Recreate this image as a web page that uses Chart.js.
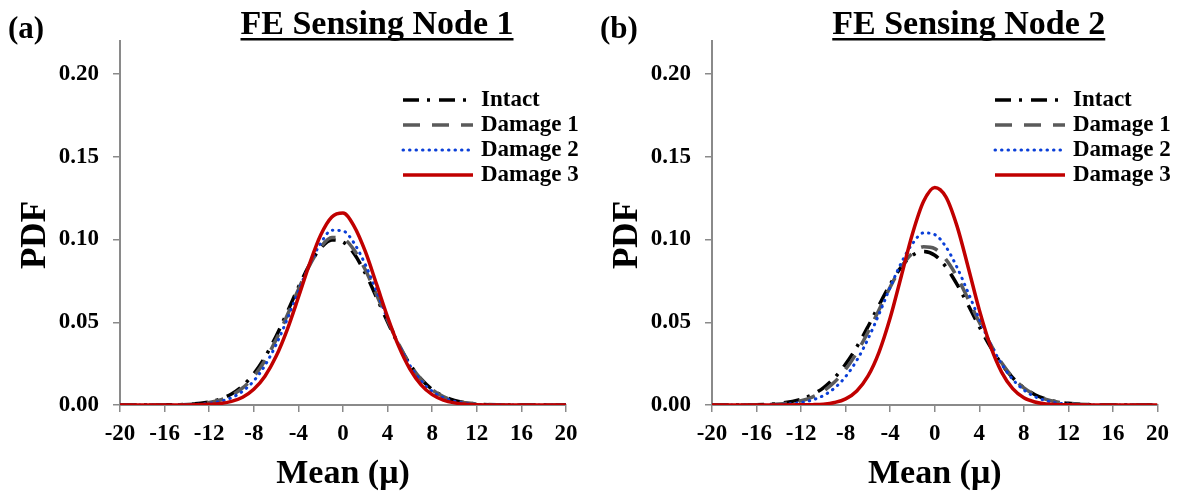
<!DOCTYPE html>
<html>
<head>
<meta charset="utf-8">
<script src="https://cdn.jsdelivr.net/npm/chart.js@4.4.1/dist/chart.umd.min.js"></script>
<style>
  html, body { margin: 0; padding: 0; background: #fff; overflow: hidden; width: 1177px; height: 495px; }
  .panel { position: absolute; top: 0; height: 495px; }
  #p1 { left: 0; width: 592px; }
  #p2 { left: 592px; width: 585px; }
  canvas { display: block; }
</style>
</head>
<body>
<div class="panel" id="p1"><canvas id="c1" width="592" height="495"></canvas></div>
<div class="panel" id="p2"><canvas id="c2" width="585" height="495"></canvas></div>
<script>
// Mean values at which the probability densities are sampled
const meanGrid = [-20, -16, -14, -12, -11, -10, -9, -8, -7, -6, -5, -4, -3, -2, -1, 0,
                  1, 2, 3, 4, 5, 6, 7, 8, 9, 10, 11, 12, 14, 16, 20];

// FE sensing node 1
const node1Intact  = [0, 0.0001, 0.0004, 0.0018, 0.0036, 0.0067, 0.0116, 0.0189, 0.0289, 0.0416, 0.0561, 0.0712, 0.0848, 0.0948, 0.0997, 0.0985,
                      0.0914, 0.0796, 0.0652, 0.0501, 0.0362, 0.0246, 0.0157, 0.0094, 0.0053, 0.0028, 0.0014, 0.0006, 0.0001, 0, 0];
const node1Damage1 = [0, 0.0001, 0.0003, 0.0015, 0.0030, 0.0058, 0.0103, 0.0172, 0.0269, 0.0395, 0.0542, 0.0699, 0.0843, 0.0954, 0.1012, 0.1005,
                      0.0936, 0.0817, 0.0668, 0.0512, 0.0368, 0.0247, 0.0156, 0.0092, 0.0051, 0.0026, 0.0013, 0.0006, 0.0001, 0, 0];
const node1Damage2 = [0, 0, 0.0002, 0.0010, 0.0022, 0.0044, 0.0083, 0.0146, 0.0239, 0.0365, 0.0519, 0.0688, 0.0849, 0.0978, 0.1056, 0.1052,
                      0.0978, 0.0849, 0.0688, 0.0519, 0.0365, 0.0239, 0.0146, 0.0083, 0.0044, 0.0022, 0.0010, 0.0004, 0.0001, 0, 0];
const node1Damage3 = [0, 0, 0, 0.0004, 0.0009, 0.0022, 0.0047, 0.0095, 0.0174, 0.0294, 0.0456, 0.0651, 0.0853, 0.1027, 0.1136, 0.1160,
                      0.1080, 0.0928, 0.0732, 0.0531, 0.0354, 0.0217, 0.0122, 0.0063, 0.0030, 0.0013, 0.0005, 0.0002, 0, 0, 0];

// FE sensing node 2
const node2Intact  = [0, 0.0002, 0.0010, 0.0035, 0.0062, 0.0104, 0.0165, 0.0248, 0.0351, 0.0473, 0.0604, 0.0729, 0.0835, 0.0905, 0.0928, 0.0905,
                      0.0835, 0.0729, 0.0604, 0.0473, 0.0351, 0.0248, 0.0165, 0.0104, 0.0062, 0.0035, 0.0019, 0.0010, 0.0002, 0, 0];
const node2Damage1 = [0, 0.0001, 0.0006, 0.0026, 0.0048, 0.0084, 0.0139, 0.0216, 0.0317, 0.0440, 0.0576, 0.0713, 0.0833, 0.0918, 0.0956, 0.0945,
                      0.0880, 0.0775, 0.0640, 0.0500, 0.0368, 0.0255, 0.0167, 0.0103, 0.0061, 0.0034, 0.0018, 0.0009, 0.0002, 0, 0];
const node2Damage2 = [0, 0, 0.0003, 0.0015, 0.0030, 0.0057, 0.0102, 0.0172, 0.0270, 0.0398, 0.0550, 0.0711, 0.0860, 0.0975, 0.1040, 0.1030,
                      0.0956, 0.0832, 0.0679, 0.0519, 0.0371, 0.0248, 0.0155, 0.0091, 0.0050, 0.0026, 0.0012, 0.0006, 0.0001, 0, 0];
const node2Damage3 = [0, 0, 0, 0.0001, 0.0002, 0.0005, 0.0015, 0.0037, 0.0085, 0.0174, 0.0320, 0.0527, 0.0780, 0.1035, 0.1231, 0.1315,
                      0.1258, 0.1081, 0.0833, 0.0575, 0.0357, 0.0199, 0.0099, 0.0044, 0.0018, 0.0006, 0.0002, 0.0001, 0, 0, 0];

const seriesLabels = ['Intact', 'Damage 1', 'Damage 2', 'Damage 3'];
const panelLetters = ['(a)', '(b)'];
const panelTitles = ['FE Sensing Node 1', 'FE Sensing Node 2'];
const xAxisTitle = 'Mean (\u03bc)';
const yAxisTitle = 'PDF';

const SERIF = '"Liberation Serif", "Times New Roman", serif';
const AXIS_GREY = '#8a8a8a';

// Line appearance for each condition
const lineStyles = [
  { color: '#000000', width: 3.5, dash: [16, 8, 3, 9], cap: 'butt' },
  { color: '#5a5a5a', width: 3.5, dash: [17, 12], cap: 'butt' },
  { color: '#0a3fd8', width: 3, dash: [0.5, 6], cap: 'round' },
  { color: '#c00000', width: 3.5, dash: [], cap: 'butt' }
];

function toPoints(values) {
  return meanGrid.map((m, i) => ({ x: m, y: values[i] }));
}

// Extra drawing: panel letter, underlined title, rotated y-axis title and the in-plot legend
const panelDecor = {
  id: 'panelDecor',
  afterDraw(chart, args, opts) {
    const { ctx, chartArea: a } = chart;
    ctx.save();
    ctx.fillStyle = '#000';

    ctx.font = 'bold 31px ' + SERIF;
    ctx.textAlign = 'left';
    ctx.textBaseline = 'alphabetic';
    ctx.fillText(opts.letter, a.left - 112, 38);

    ctx.font = 'bold 34px ' + SERIF;
    ctx.textAlign = 'center';
    const cx = (a.left + a.right) / 2 + 34;
    ctx.fillText(opts.title, cx, 34);
    const tw = ctx.measureText(opts.title).width;
    ctx.fillRect(cx - tw / 2, 38, tw, 2.5);

    ctx.save();
    ctx.translate(a.left - 84, 235);
    ctx.rotate(-Math.PI / 2);
    ctx.textBaseline = 'middle';
    ctx.font = 'bold 35px ' + SERIF;
    ctx.fillText(opts.yTitle, 0, 0);
    ctx.restore();

    ctx.font = 'bold 23px ' + SERIF;
    ctx.textAlign = 'left';
    ctx.textBaseline = 'middle';
    chart.data.datasets.forEach((ds, i) => {
      const y = a.top + 59 + i * 25;
      ctx.save();
      ctx.strokeStyle = ds.borderColor;
      ctx.lineWidth = ds.borderWidth;
      ctx.lineCap = ds.borderCapStyle;
      ctx.setLineDash(ds.borderDash);
      ctx.beginPath();
      ctx.moveTo(a.left + 283, y);
      ctx.lineTo(a.left + 353, y);
      ctx.stroke();
      ctx.restore();
      ctx.fillText(ds.label, a.left + 361, y);
    });
    ctx.restore();
  }
};

function makePanel(canvasId, seriesList, letter, title, rightPad) {
  const datasets = seriesList.map((vals, i) => ({
    label: seriesLabels[i],
    data: toPoints(vals),
    borderColor: lineStyles[i].color,
    borderWidth: lineStyles[i].width,
    borderDash: lineStyles[i].dash,
    borderCapStyle: lineStyles[i].cap,
    fill: false,
    pointRadius: 0,
    cubicInterpolationMode: 'monotone',
    order: seriesList.length - 1 - i
  }));

  return new Chart(document.getElementById(canvasId), {
    type: 'line',
    data: { datasets },
    plugins: [panelDecor],
    options: {
      responsive: false,
      animation: false,
      devicePixelRatio: 1,
      layout: { padding: { left: 0, top: 41, right: rightPad, bottom: 0 } },
      plugins: {
        legend: { display: false },
        tooltip: { enabled: false },
        title: { display: false },
        panelDecor: { letter, title, yTitle: yAxisTitle }
      },
      scales: {
        x: {
          type: 'linear',
          min: -20,
          max: 20,
          afterFit: s => { s.height = 90; },
          ticks: {
            stepSize: 4,
            color: '#000',
            padding: 8,
            maxRotation: 0,
            font: { family: SERIF, size: 23, weight: 'bold' }
          },
          grid: { drawOnChartArea: false, drawTicks: true, tickLength: 7, color: AXIS_GREY, lineWidth: 1.5 },
          border: { display: true, color: AXIS_GREY, width: 2 },
          title: {
            display: true,
            text: xAxisTitle,
            color: '#000',
            padding: 0,
            font: { family: SERIF, size: 34, weight: 'bold' }
          }
        },
        y: {
          type: 'linear',
          min: 0,
          max: 0.22,
          afterFit: s => { s.width = 120; },
          ticks: {
            stepSize: 0.05,
            includeBounds: false,
            color: '#000',
            padding: 14,
            callback: v => v.toFixed(2),
            font: { family: SERIF, size: 23, weight: 'bold' }
          },
          grid: { drawOnChartArea: false, drawTicks: true, tickLength: 7, color: AXIS_GREY, lineWidth: 1.5 },
          border: { display: true, color: AXIS_GREY, width: 2 }
        }
      }
    }
  });
}

makePanel('c1', [node1Intact, node1Damage1, node1Damage2, node1Damage3], panelLetters[0], panelTitles[0], 592 - 566);
makePanel('c2', [node2Intact, node2Damage1, node2Damage2, node2Damage3], panelLetters[1], panelTitles[1], 585 - 566);
</script>
</body>
</html>
